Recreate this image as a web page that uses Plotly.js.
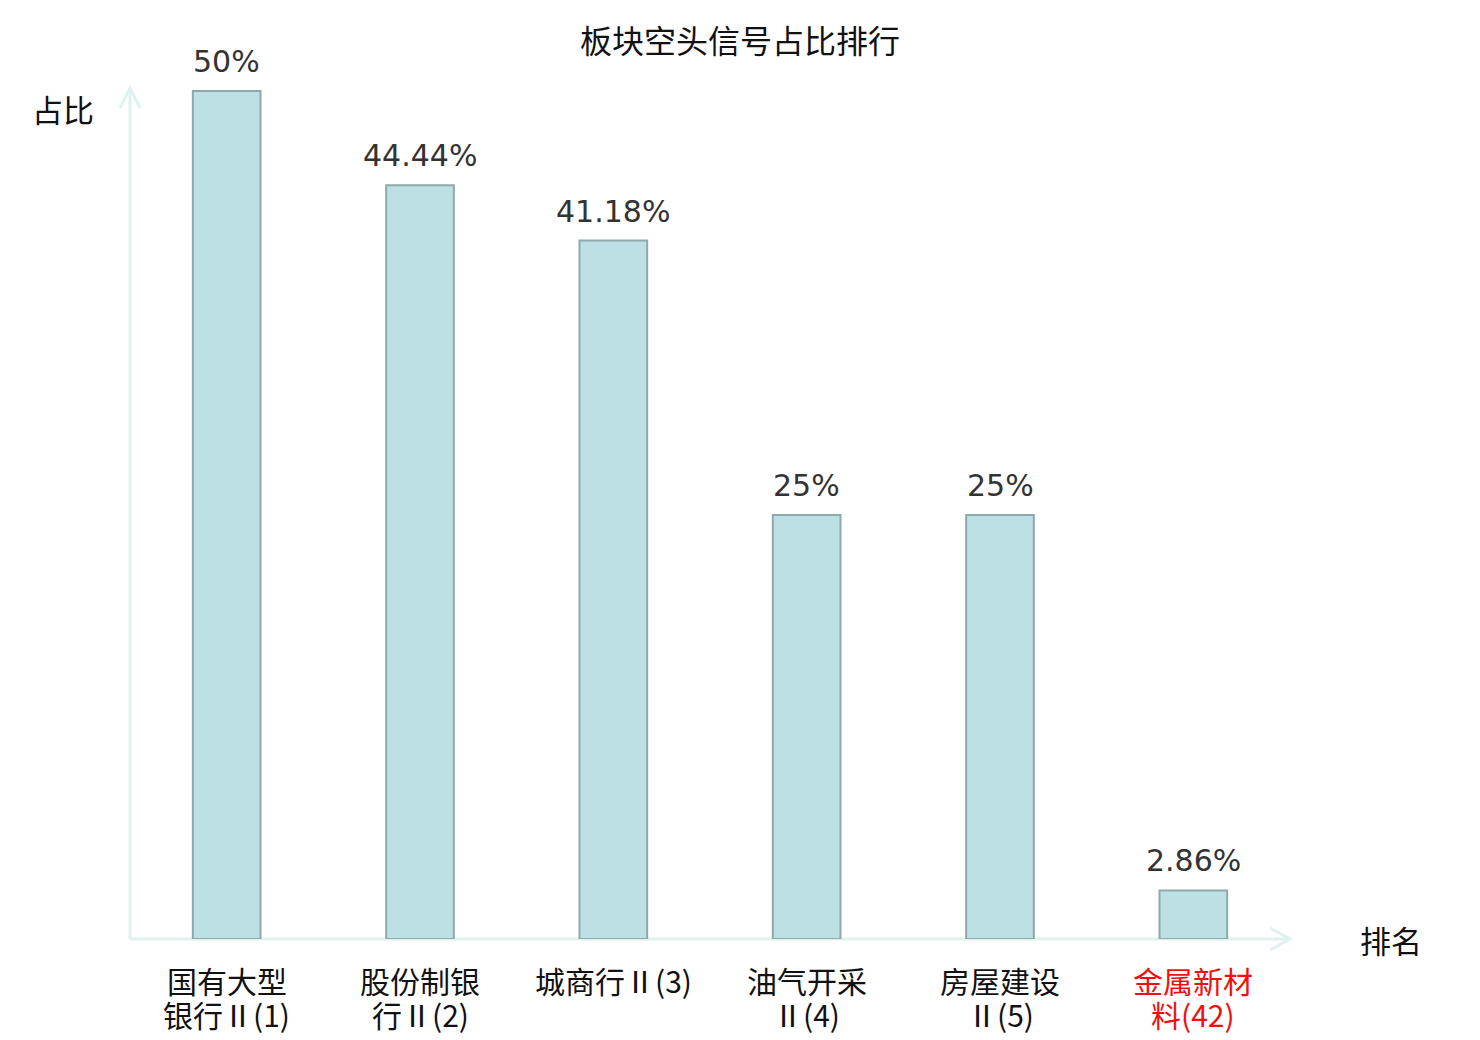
<!DOCTYPE html>
<html>
<head>
<meta charset="utf-8">
<script src="https://cdn.plot.ly/plotly-3.0.1.min.js"></script>
<style>
  html, body { margin: 0; padding: 0; background: #ffffff; }
  #chart { width: 1480px; height: 1040px; }
</style>
</head>
<body>
<div id="chart"></div>
<script>
// 板块空头信号占比排行
const categories = ['国有大型银行Ⅱ(1)', '股份制银行Ⅱ(2)', '城商行Ⅱ(3)', '油气开采Ⅱ(4)', '房屋建设Ⅱ(5)', '金属新材料(42)'];
const labelLine1 = ['国有大型', '股份制银', '城商行Ⅱ(3)', '油气开采', '房屋建设', '金属新材'];
const labelLine2 = ['银行Ⅱ(1)', '行Ⅱ(2)', '', 'Ⅱ(4)', 'Ⅱ(5)', '料(42)'];
const labelColors = ['#111111', '#111111', '#111111', '#111111', '#111111', '#ee1111'];
const values = [50, 44.44, 41.18, 25, 25, 2.86];
const valueLabels = ['50%', '44.44%', '41.18%', '25%', '25%', '2.86%'];

const cjk = '"Noto Sans CJK SC", "DejaVu Sans", sans-serif';
const latin = '"DejaVu Sans", "Noto Sans CJK SC", sans-serif';
const axisColor = '#dff2f0';

const traces = [{
  x: categories,
  y: values,
  type: 'bar',
  width: 0.35,
  marker: {
    color: '#bce0e3',
    line: { color: '#8ea9ab', width: 2 }
  },
  hoverinfo: 'skip'
}];

const annotations = [];

// 数值标签
for (let i = 0; i < categories.length; i++) {
  annotations.push({
    x: categories[i],
    y: values[i],
    xref: 'x',
    yref: 'y',
    text: valueLabels[i],
    showarrow: false,
    xanchor: 'center',
    yanchor: 'bottom',
    yshift: 10,
    font: { family: latin, size: 30, color: '#333333' }
  });
}

// 类别标签（两行，行距较紧）
for (let i = 0; i < categories.length; i++) {
  annotations.push({
    x: categories[i],
    y: 0,
    xref: 'x',
    yref: 'paper',
    text: labelLine1[i],
    showarrow: false,
    xanchor: 'center',
    yanchor: 'middle',
    yshift: -41,
    font: { family: cjk, size: 30, color: labelColors[i] }
  });
  if (labelLine2[i]) {
    annotations.push({
      x: categories[i],
      y: 0,
      xref: 'x',
      yref: 'paper',
      text: labelLine2[i],
      showarrow: false,
      xanchor: 'center',
      yanchor: 'middle',
      yshift: -75,
      font: { family: cjk, size: 30, color: labelColors[i] }
    });
  }
}

// 轴名称
annotations.push({
  x: 0, y: 1, xref: 'paper', yref: 'paper',
  text: '占比', showarrow: false,
  xanchor: 'center', yanchor: 'middle',
  xshift: -67, yshift: -20,
  font: { family: cjk, size: 31, color: '#111111' }
});
annotations.push({
  x: 1, y: 0, xref: 'paper', yref: 'paper',
  text: '排名', showarrow: false,
  xanchor: 'center', yanchor: 'middle',
  xshift: 101, yshift: 0,
  font: { family: cjk, size: 31, color: '#111111' }
});

// 坐标轴与箭头（paper 坐标，绘图区 1160 x 851 像素）
const pw = 1160, ph = 851;
const shapes = [
  { type: 'line', xref: 'paper', yref: 'paper', x0: 0, y0: 0, x1: 1, y1: 0,
    line: { color: axisColor, width: 3 }, layer: 'below' },
  { type: 'line', xref: 'paper', yref: 'paper', x0: 0, y0: 0, x1: 0, y1: 1,
    line: { color: axisColor, width: 3 }, layer: 'below' },
  { type: 'path', xref: 'paper', yref: 'paper',
    path: `M ${-10 / pw} ${1 - 20 / ph} L 0 1 L ${10 / pw} ${1 - 20 / ph}`,
    line: { color: axisColor, width: 3 }, layer: 'below' },
  { type: 'path', xref: 'paper', yref: 'paper',
    path: `M ${1 - 20 / pw} ${11 / ph} L 1 0 L ${1 - 20 / pw} ${-11 / ph}`,
    line: { color: axisColor, width: 3 }, layer: 'below' }
];

const layout = {
  width: 1480,
  height: 1040,
  title: {
    text: '板块空头信号占比排行',
    x: 0.5,
    xref: 'container',
    y: 1 - 42 / 1040,
    yref: 'container',
    xanchor: 'center',
    yanchor: 'middle',
    font: { family: cjk, size: 32, color: '#111111' }
  },
  margin: { l: 130, r: 190, t: 88, b: 101 },
  paper_bgcolor: '#ffffff',
  plot_bgcolor: '#ffffff',
  showlegend: false,
  xaxis: {
    type: 'category',
    range: [-0.5, 5.5],
    showgrid: false,
    zeroline: false,
    showline: false,
    showticklabels: false,
    ticks: '',
    fixedrange: true
  },
  yaxis: {
    range: [0, 50 * 851 / 848],
    showgrid: false,
    zeroline: false,
    showline: false,
    showticklabels: false,
    ticks: '',
    fixedrange: true
  },
  annotations: annotations,
  shapes: shapes
};

Plotly.newPlot('chart', traces, layout, { displayModeBar: false, staticPlot: true });
</script>
</body>
</html>
